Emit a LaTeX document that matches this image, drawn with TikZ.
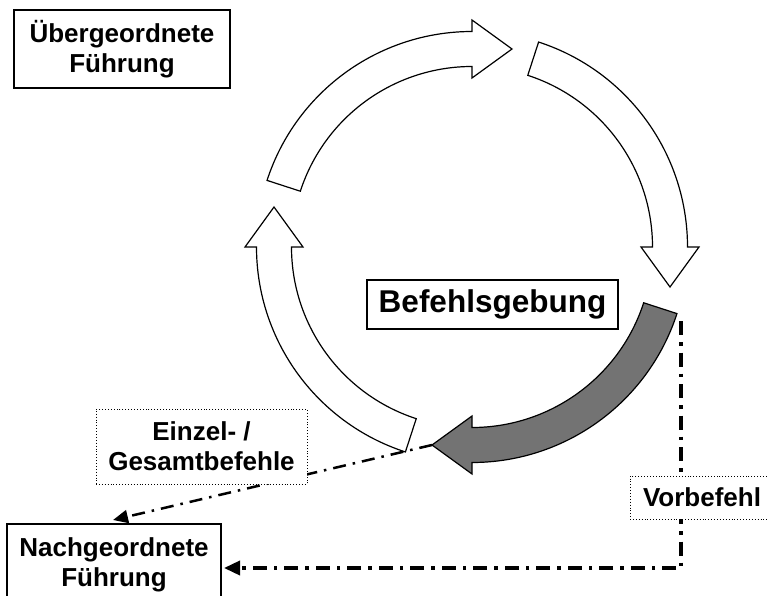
\documentclass[tikz,border=0pt]{standalone}
\usepackage{fontspec}
\setmainfont{Liberation Sans}
\usetikzlibrary{calc,arrows.meta}

% radii of the command cycle
\def\Rm{198}    % centre line of the band
\def\Ro{215.5}  % outer edge of the band
\def\Ri{180.5}  % inner edge of the band
\def\Rho{227}   % outer corner of an arrow head
\def\Rhi{169}   % inner corner of an arrow head
\def\Hl{40}     % length of an arrow head

% curved block arrow running clockwise from angle #2 to angle #3;
% its tip is stored as coordinate #1
\newcommand\cyclearc[4]{%
  \path[#4] ($(C)+(#2:\Ro)$) arc[start angle=#2, end angle=#3, radius=\Ro]
    -- ($(C)+(#3:\Rho)$)
    -- ($(C)+(#3:\Rm)+(#3-90:\Hl)$) coordinate (#1)
    -- ($(C)+(#3:\Rhi)$)
    -- ($(C)+(#3:\Ri)$)
    arc[start angle=#3, end angle=#2, radius=\Ri] -- cycle;
}

\tikzset{
  lbl/.style={font=\bfseries\fontsize{26}{30}\selectfont, align=center, inner sep=0pt},
  solidbox/.style={lbl, draw, line width=2pt, fill=white},
  thinbox/.style={lbl, draw, line width=1.3pt, fill=white},
  dotbox/.style={lbl, draw, dotted, line width=0.9pt, fill=white},
  bandarrow/.style={draw, line width=1.2pt, fill=white, line join=miter},
  darkarrow/.style={bandarrow, fill=black!55},
  flow/.style={line width=3.5pt, dash pattern=on 14pt off 7pt on 3.5pt off 7pt,
    -{Triangle[length=16pt,width=14pt]}},
  flowthin/.style={line width=2.5pt, dash pattern=on 13pt off 7pt on 2.5pt off 7pt,
    -{Triangle[length=15pt,width=13pt]}},
}

\begin{document}
\begin{tikzpicture}[x=1pt,y=1pt]
\useasboundingbox (0,0) rectangle (768,-596);

\coordinate (C) at (472,-247);

% the four phases of the cycle
\cyclearc{topTip}{162}{90}{bandarrow}
\cyclearc{rightTip}{72}{0}{bandarrow}
\cyclearc{leftTip}{-108}{-180}{bandarrow}
\cyclearc{darkTip}{-18}{-90}{darkarrow}

% boxes
\node[solidbox, minimum width=216pt, minimum height=78pt] (ueber) at (122,-49)
  {Übergeordnete\\Führung};
\node[thinbox, font=\bfseries\fontsize{31.5}{36}\selectfont,
  minimum width=251pt, minimum height=49pt] (befehl) at (492.5,-304.5) {Befehlsgebung};
\node[solidbox, minimum width=214pt, minimum height=82pt] (nach) at (114,-565)
  {Nachgeordnete\\Führung};

% command flows
\coordinate (vStart) at (681,-321);
\coordinate (vCorner) at (681,-568);
\draw[flow] (vStart) -- (vCorner) -- ($(nach.east |- vCorner)+(2,0)$);
\draw[flowthin] (darkTip) -- ($(nach.north)+(-1,3)$);

% labels on the flows
\node[dotbox, minimum width=211pt, minimum height=75pt] (einzel) at (201.5,-446.5)
  {Einzel- /\\Gesamtbefehle};
\node[dotbox, minimum width=144pt, minimum height=43pt] (vorbefehl) at (702,-497.5)
  {Vorbefehl};
\end{tikzpicture}
\end{document}
